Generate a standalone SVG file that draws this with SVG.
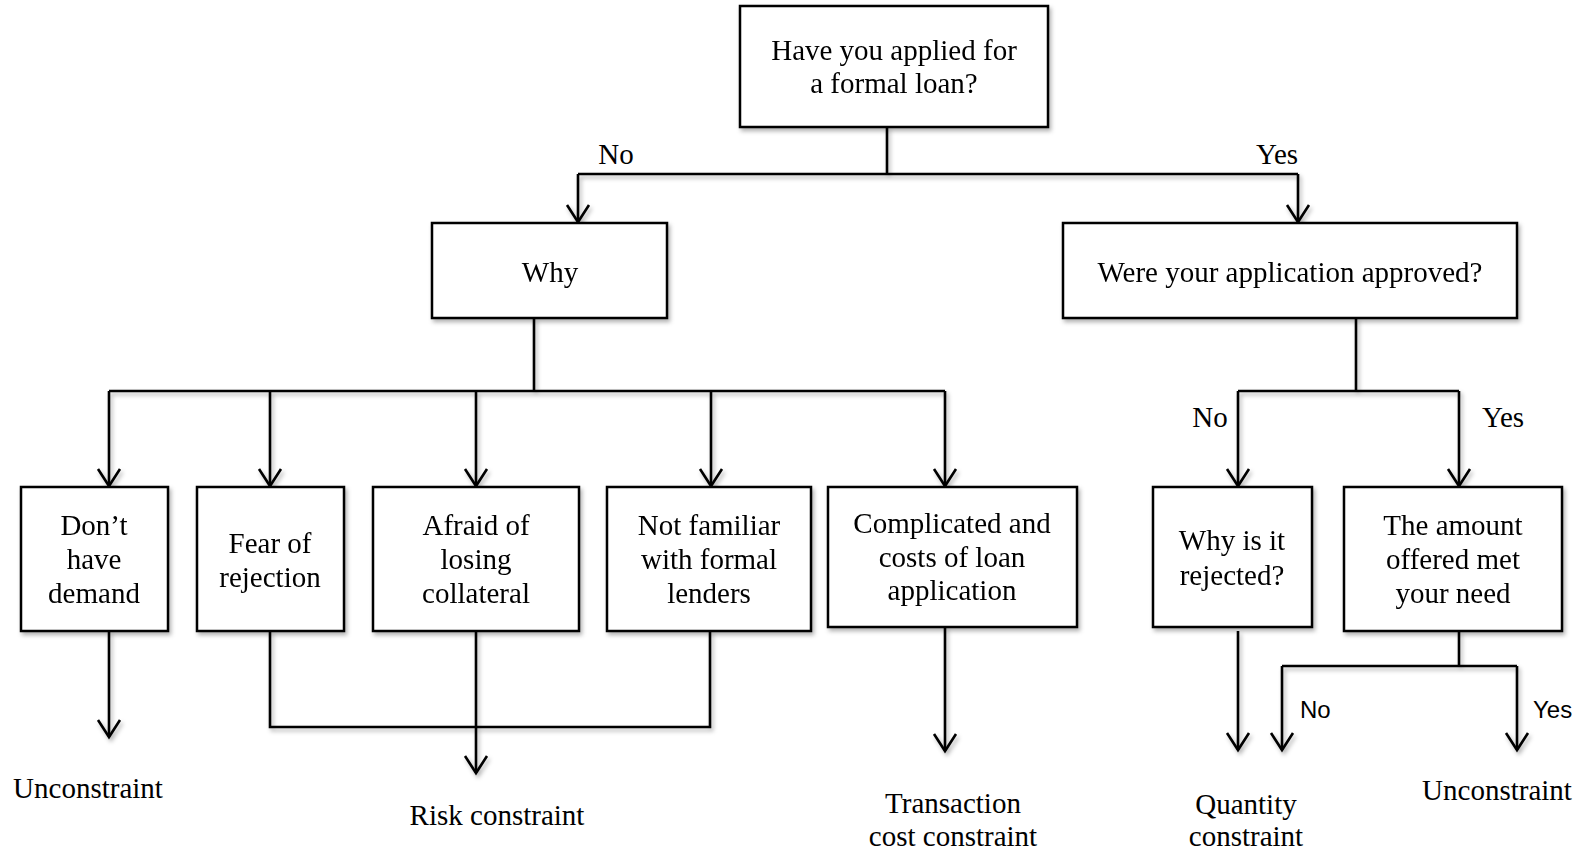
<svg xmlns="http://www.w3.org/2000/svg" width="1591" height="851" viewBox="0 0 1591 851">
  <style>
    .box { fill: #ffffff; stroke: #000000; stroke-width: 2.5; }
    .lbl { font-family: "Liberation Serif", "Times New Roman", serif; font-size: 29px; fill: #000000; text-anchor: middle; }
    .sans { font-family: "Liberation Sans", Arial, sans-serif; font-size: 24px; fill: #000000; }
    .wire { fill: none; stroke: #000000; stroke-width: 2.6; stroke-linejoin: miter; }
    .shadowed { filter: url(#soft); }
  </style>
  <defs>
    <filter id="soft" x="-10%" y="-10%" width="130%" height="140%">
      <feDropShadow dx="2" dy="3" stdDeviation="2" flood-color="#000000" flood-opacity="0.3"/>
    </filter>
    <!-- open V head, drawn pointing along +x so orient="auto" turns it down the line -->
    <marker id="arrow" viewBox="-20 -14 24 28" markerWidth="24" markerHeight="28" refX="0" refY="0" markerUnits="userSpaceOnUse" orient="auto">
      <path d="M -17 -11 L 0 0 L -17 11" fill="none" stroke="#000000" stroke-width="2.6"/>
    </marker>
  </defs>
  <rect width="1591" height="851" fill="#ffffff"/>

  <!-- connectors -->
  <g id="connectors" class="shadowed">
    <!-- root split -->
    <path class="wire" d="M 887 127 V 174"/>
    <path class="wire" d="M 578 174 H 1298"/>
    <path class="wire" d="M 578 174 V 222" marker-end="url(#arrow)"/>
    <path class="wire" d="M 1298 174 V 222" marker-end="url(#arrow)"/>
    <!-- reasons split -->
    <path class="wire" d="M 534 318 V 391"/>
    <path class="wire" d="M 109 391 H 945"/>
    <path class="wire" d="M 109 391 V 486" marker-end="url(#arrow)"/>
    <path class="wire" d="M 270 391 V 486" marker-end="url(#arrow)"/>
    <path class="wire" d="M 476 391 V 486" marker-end="url(#arrow)"/>
    <path class="wire" d="M 711 391 V 486" marker-end="url(#arrow)"/>
    <path class="wire" d="M 945 391 V 486" marker-end="url(#arrow)"/>
    <!-- approval split -->
    <path class="wire" d="M 1356 318 V 391"/>
    <path class="wire" d="M 1238 391 H 1459"/>
    <path class="wire" d="M 1238 391 V 486" marker-end="url(#arrow)"/>
    <path class="wire" d="M 1459 391 V 486" marker-end="url(#arrow)"/>
    <!-- outcomes -->
    <path class="wire" d="M 109 631 V 737" marker-end="url(#arrow)"/>
    <path class="wire" d="M 270 631 V 727 H 710 V 631"/>
    <path class="wire" d="M 476 631 V 773" marker-end="url(#arrow)"/>
    <path class="wire" d="M 945 627 V 751" marker-end="url(#arrow)"/>
    <path class="wire" d="M 1238 631 V 750" marker-end="url(#arrow)"/>
    <path class="wire" d="M 1459 631 V 666"/>
    <path class="wire" d="M 1282 666 H 1517"/>
    <path class="wire" d="M 1282 666 V 750" marker-end="url(#arrow)"/>
    <path class="wire" d="M 1517 666 V 750" marker-end="url(#arrow)"/>
  </g>

  <!-- branch labels -->
  <g id="branch-labels">
    <text class="lbl" x="616" y="164">No</text>
    <text class="lbl" x="1277" y="164">Yes</text>
    <text class="lbl" x="1210" y="427">No</text>
    <text class="lbl" x="1503" y="427">Yes</text>
    <text class="sans" x="1300" y="718">No</text>
    <text class="sans" x="1533" y="718">Yes</text>
  </g>

  <g id="node-applied" class="shadowed">
    <rect class="box" x="740" y="6" width="308" height="121"/>
    <text class="lbl" x="894" y="60">Have you applied for</text>
    <text class="lbl" x="894" y="93">a formal loan?</text>
  </g>

  <g id="node-why" class="shadowed">
    <rect class="box" x="432" y="223" width="235" height="95"/>
    <text class="lbl" x="550" y="282">Why</text>
  </g>

  <g id="node-approved" class="shadowed">
    <rect class="box" x="1063" y="223" width="454" height="95"/>
    <text class="lbl" x="1290" y="282">Were your application approved?</text>
  </g>

  <g id="node-no-demand" class="shadowed">
    <rect class="box" x="21" y="487" width="147" height="144"/>
    <text class="lbl" x="94" y="535">Don’t</text>
    <text class="lbl" x="94" y="569">have</text>
    <text class="lbl" x="94" y="603">demand</text>
  </g>

  <g id="node-fear" class="shadowed">
    <rect class="box" x="197" y="487" width="147" height="144"/>
    <text class="lbl" x="270" y="553">Fear of</text>
    <text class="lbl" x="270" y="587">rejection</text>
  </g>

  <g id="node-collateral" class="shadowed">
    <rect class="box" x="373" y="487" width="206" height="144"/>
    <text class="lbl" x="476" y="535">Afraid of</text>
    <text class="lbl" x="476" y="569">losing</text>
    <text class="lbl" x="476" y="603">collateral</text>
  </g>

  <g id="node-unfamiliar" class="shadowed">
    <rect class="box" x="607" y="487" width="204" height="144"/>
    <text class="lbl" x="709" y="535">Not familiar</text>
    <text class="lbl" x="709" y="569">with formal</text>
    <text class="lbl" x="709" y="603">lenders</text>
  </g>

  <g id="node-complicated" class="shadowed">
    <rect class="box" x="828" y="487" width="249" height="140"/>
    <text class="lbl" x="952" y="533">Complicated and</text>
    <text class="lbl" x="952" y="567">costs of loan</text>
    <text class="lbl" x="952" y="600">application</text>
  </g>

  <g id="node-rejected" class="shadowed">
    <rect class="box" x="1153" y="487" width="159" height="140"/>
    <text class="lbl" x="1232" y="550">Why is it</text>
    <text class="lbl" x="1232" y="585">rejected?</text>
  </g>

  <g id="node-amount" class="shadowed">
    <rect class="box" x="1344" y="487" width="218" height="144"/>
    <text class="lbl" x="1453" y="535">The amount</text>
    <text class="lbl" x="1453" y="569">offered met</text>
    <text class="lbl" x="1453" y="603">your need</text>
  </g>

  <!-- outcomes -->
  <g id="out-unconstraint-left">
    <text class="lbl" x="88" y="798">Unconstraint</text>
  </g>
  <g id="out-risk">
    <text class="lbl" x="497" y="825">Risk constraint</text>
  </g>
  <g id="out-transaction">
    <text class="lbl" x="953" y="813">Transaction</text>
    <text class="lbl" x="953" y="846">cost constraint</text>
  </g>
  <g id="out-quantity">
    <text class="lbl" x="1246" y="814">Quantity</text>
    <text class="lbl" x="1246" y="846">constraint</text>
  </g>
  <g id="out-unconstraint-right">
    <text class="lbl" x="1497" y="800">Unconstraint</text>
  </g>
</svg>
